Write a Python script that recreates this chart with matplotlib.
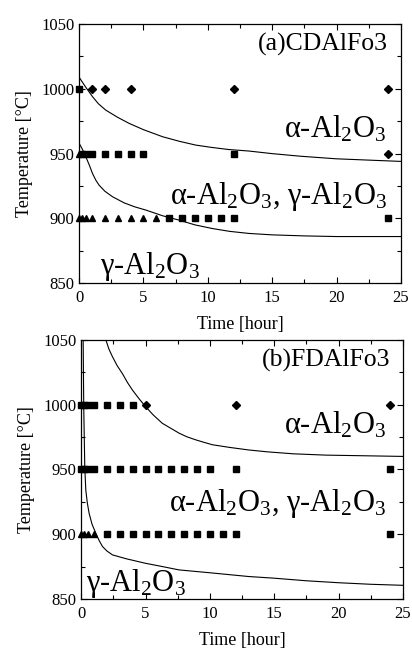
from matplotlib import pyplot as plt
from matplotlib.ticker import MultipleLocator

plt.rcParams['font.family'] = ['Liberation Serif', 'DejaVu Serif']
plt.rcParams['mathtext.fontset'] = 'custom'
plt.rcParams['mathtext.rm'] = 'Liberation Serif'
plt.rcParams['mathtext.it'] = 'Liberation Serif:italic'

# (a) CDAlFo3
a_diam_t = [1, 2, 4, 12, 24, 24]
a_diam_T = [1000, 1000, 1000, 1000, 1000, 950]
a_sq_t = [0, 0.25, 0.5, 1, 2, 3, 4, 5, 12, 7, 8, 9, 10, 11, 12, 24]
a_sq_T = [1000, 950, 950, 950, 950, 950, 950, 950, 950, 900, 900, 900, 900, 900, 900, 900]
a_tri_t = [0, 0, 0.25, 0.5, 1, 2, 3, 4, 5, 6]
a_tri_T = [950, 900, 900, 900, 900, 900, 900, 900, 900, 900]
a_up_t = [0, 0.5, 1.04, 1.5, 2.07, 3, 3.9, 5, 6.5, 7.8, 9.06, 10.3, 11.6, 13.2, 15, 17.2, 20, 22.5, 25]
a_up_T = [1009, 1001.5, 994, 988.5, 983.6, 978, 973.3, 968.5, 963, 959.5, 956.6, 954.8, 953.2, 952, 950, 948, 946, 945, 944]
a_lo_t = [0, 0.25, 0.52, 0.8, 1.04, 1.3, 1.55, 2, 2.6, 3.5, 4.3, 5.2, 6.5, 7.8, 9, 10.35, 11.7,
          13.2, 15, 17.5, 20, 25]
a_lo_T = [958, 953.5, 947.6, 941, 934.7, 929.5, 925.7, 921, 916.7, 912, 909, 906.4, 902, 898.6, 895, 892.2, 890,
          888.4, 887.3, 886.5, 886, 886]

# (b) FDAlFo3
b_diam_t = [5, 12, 24]
b_diam_T = [1000, 1000, 1000]
b_sq_t = [0, 0.25, 0.5, 1, 2, 3, 4,
          0, 0.25, 0.5, 1, 2, 3, 4, 5, 6, 7, 8, 9, 10, 12, 24,
          2, 3, 4, 5, 6, 7, 8, 9, 10, 11, 12, 24]
b_sq_T = [1000] * 7 + [950] * 15 + [900] * 12
b_tri_t = [0, 0.25, 0.5, 1]
b_tri_T = [900, 900, 900, 900]
b_up_t = [1.92, 2.15, 2.43, 2.8, 3.2, 3.6, 4, 4.5, 5, 5.6, 6.3, 7, 7.6, 8.2, 8.9, 9.5, 10.2, 11.5,
          13, 14.5, 16.5, 19, 22, 25]
b_up_T = [1050, 1043, 1037, 1030, 1024, 1017, 1011, 1004.5, 998.5, 992, 985.6, 981.5, 978, 975.2, 972.8, 971,
          969, 967, 965, 963.5, 962, 961, 960.5, 960]
b_lo_t = [0.155, 0.2, 0.24, 0.28, 0.32, 0.36, 0.48, 0.62, 0.85, 1.14, 1.4, 1.66, 2, 2.43, 3.5, 5, 6.3,
          7.6, 10.2, 13, 15, 17.5, 20, 22.5, 25]
b_lo_T = [1050, 998.5, 975, 952, 943, 934, 924, 916, 907.5, 900.7, 895, 890.4, 887, 884, 881, 877.5, 875,
          872.4, 870, 867.3, 866, 864, 862.5, 861.3, 860.5]

fig = plt.figure(figsize=(4.12, 6.51), dpi=100)
ax1 = fig.add_axes([0.192, 0.565, 0.781, 0.398])
ax2 = fig.add_axes([0.197, 0.080, 0.781, 0.398])

phase_a = 'α-Al$_2$O$_3$'
phase_g = 'γ-Al$_2$O$_3$'

def style(ax):
    ax.set_xlim(0, 25)
    ax.set_ylim(850, 1050)
    ax.xaxis.set_major_locator(MultipleLocator(5))
    ax.xaxis.set_minor_locator(MultipleLocator(2.5))
    ax.yaxis.set_major_locator(MultipleLocator(50))
    ax.yaxis.set_minor_locator(MultipleLocator(25))
    ax.tick_params(which='both', direction='in', top=True, right=True, labelsize=12, width=0.8)
    ax.tick_params(which='major', length=4)
    ax.tick_params(which='minor', length=3)
    ax.tick_params(axis='x', pad=5)
    ax.set_xlabel('Time [hour]', fontsize=13, labelpad=7)
    ax.set_ylabel('Temperature [°C]', fontsize=13, labelpad=6)
    for s in ax.spines.values():
        s.set_linewidth(0.9)

for ax, d, s, t, up, lo, name in [
        (ax1, (a_diam_t, a_diam_T), (a_sq_t, a_sq_T), (a_tri_t, a_tri_T),
         (a_up_t, a_up_T), (a_lo_t, a_lo_T), '(a)CDAlFo3'),
        (ax2, (b_diam_t, b_diam_T), (b_sq_t, b_sq_T), (b_tri_t, b_tri_T),
         (b_up_t, b_up_T), (b_lo_t, b_lo_T), '(b)FDAlFo3')]:
    ax.plot(up[0], up[1], color='black', lw=0.8)
    ax.plot(lo[0], lo[1], color='black', lw=0.8)
    ax.plot(d[0], d[1], 'D', color='black', ms=4.5, clip_on=False, zorder=3)
    ax.plot(s[0], s[1], 's', color='black', ms=4, clip_on=False, zorder=3)
    ax.plot(t[0], t[1], '^', color='black', ms=5, clip_on=False, zorder=3)
    style(ax)
    ax.text(24.0, 1034, name, fontsize=18.5, ha='right', va='center')

ax1.text(23.9, 969, phase_a, fontsize=22, ha='right', va='center')
ax1.text(23.9, 917, phase_a + ', ' + phase_g, fontsize=22, ha='right', va='center')
ax1.text(1.6, 863, phase_g, fontsize=22, ha='left', va='center')

ax2.text(23.7, 984, phase_a, fontsize=22, ha='right', va='center')
ax2.text(23.7, 924, phase_a + ', ' + phase_g, fontsize=22, ha='right', va='center')
ax2.text(0.4, 862, phase_g, fontsize=22, ha='left', va='center')

plt.savefig('out.png', dpi=100)
